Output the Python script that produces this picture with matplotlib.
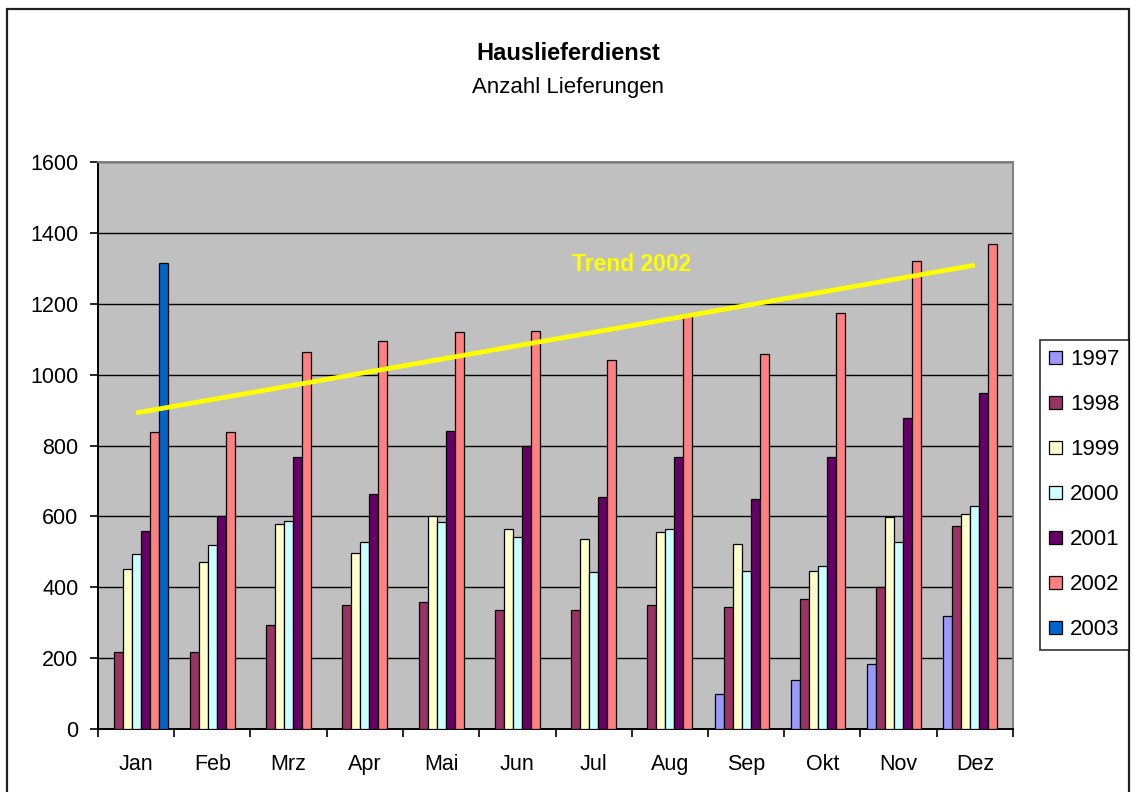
import numpy as np
import matplotlib
matplotlib.use("Agg")
import matplotlib.pyplot as plt
from matplotlib.patches import Rectangle

plt.rcParams['font.family'] = ['Liberation Sans', 'DejaVu Sans']

months = ["Jan", "Feb", "Mrz", "Apr", "Mai", "Jun", "Jul", "Aug", "Sep", "Okt", "Nov", "Dez"]
years = ["1997", "1998", "1999", "2000", "2001", "2002", "2003"]
nan = np.nan
v1997 = [nan, nan, nan, nan, nan, nan, nan, nan, 99, 137, 184, 320]
v1998 = [217, 217, 293, 349, 359, 335, 335, 349, 344, 366, 400, 574]
v1999 = [451, 471, 579, 498, 600, 564, 536, 556, 523, 447, 598, 607]
v2000 = [494, 518, 588, 527, 583, 541, 442, 564, 447, 460, 527, 630]
v2001 = [560, 601, 768, 664, 842, 799, 654, 768, 649, 768, 879, 949]
v2002 = [837, 837, 1063, 1095, 1120, 1123, 1042, 1168, 1057, 1175, 1320, 1368]
v2003 = [1315, nan, nan, nan, nan, nan, nan, nan, nan, nan, nan, nan]
series = [v1997, v1998, v1999, v2000, v2001, v2002, v2003]
colors = ["#9999FF", "#993366", "#FFFFCC", "#CCFFFF", "#660066", "#FF8080", "#0066CC"]

title = "Hauslieferdienst"
subtitle = "Anzahl Lieferungen"
trend_label = "Trend 2002"
yticks = [0, 200, 400, 600, 800, 1000, 1200, 1400, 1600]

W, H = 1133, 792
fig = plt.figure(figsize=(W / 100, H / 100), dpi=100)
fig.patch.set_facecolor("white")

ax = fig.add_axes([98 / W, (H - 729) / H, (1013 - 98) / W, (729 - 162) / H])
ax.set_facecolor("#C0C0C0")

x = np.arange(len(months))
bw = 0.118
n = len(series)
for i, (vals, c, lab) in enumerate(zip(series, colors, years)):
    off = (i - (n - 1) / 2) * bw
    ax.bar(x + off, np.array(vals, dtype=float), width=bw, color=c,
           edgecolor="black", linewidth=0.9, label=lab, zorder=3)

# trend line of 2002 (linear regression)
coef = np.polyfit(x, np.array(v2002, dtype=float), 1)
ax.plot([x[0], x[-1]], np.polyval(coef, [x[0], x[-1]]), color="#FFFF00",
        linewidth=3.4, zorder=4, solid_capstyle="butt")
ax.text(6.5, 1310, trend_label, color="#FFFF00", fontsize=16.5, fontweight="bold",
        ha="center", va="center", zorder=5)

ax.set_xlim(-0.5, len(months) - 0.5)
ax.set_ylim(0, 1600)
ax.set_yticks(yticks)
ax.set_yticklabels([str(t) for t in yticks], fontsize=15.5)
ax.yaxis.grid(True, color="black", linewidth=1.0, zorder=1)
ax.set_axisbelow(True)

ax.set_xticks(np.arange(-0.5, len(months) + 0.5, 1.0))
ax.set_xticklabels([])
ax.set_xticks(x, minor=True)
ax.set_xticklabels(months, minor=True, fontsize=15.5)
ax.tick_params(axis="x", which="minor", length=0, pad=18)
ax.tick_params(axis="x", which="major", length=6, width=1.2, color="black", direction="out")
ax.tick_params(axis="y", length=6, width=1.2, color="black", direction="out", pad=8)

for s in ["left", "bottom"]:
    ax.spines[s].set_color("black")
    ax.spines[s].set_linewidth(1.4)
for s in ["top", "right"]:
    ax.spines[s].set_color("#808080")
    ax.spines[s].set_linewidth(1.4)

# titles
fig.text(568 / W, 1 - 54 / H, title, fontsize=17, fontweight="bold", ha="center", va="center")
fig.text(568 / W, 1 - 87 / H, subtitle, fontsize=16, ha="center", va="center")

# legend
handles, labels = ax.get_legend_handles_labels()
leg = fig.legend(handles, labels, loc="upper left",
                 bbox_to_anchor=(1040 / W, 1 - 340 / H),
                 fontsize=16, frameon=True, fancybox=False,
                 edgecolor="black", handlelength=0.58, handleheight=0.58,
                 handletextpad=0.36, labelspacing=1.08, borderpad=0.42,
                 borderaxespad=0)
leg.get_frame().set_linewidth(1.2)

# outer chart border
fig.add_artist(Rectangle((7 / W, -0.05), (1129 - 7) / W, 1.05 - 9 / H,
                         transform=fig.transFigure, fill=False,
                         edgecolor="#202020", linewidth=1.6))

fig.savefig("out.png", dpi=100)
